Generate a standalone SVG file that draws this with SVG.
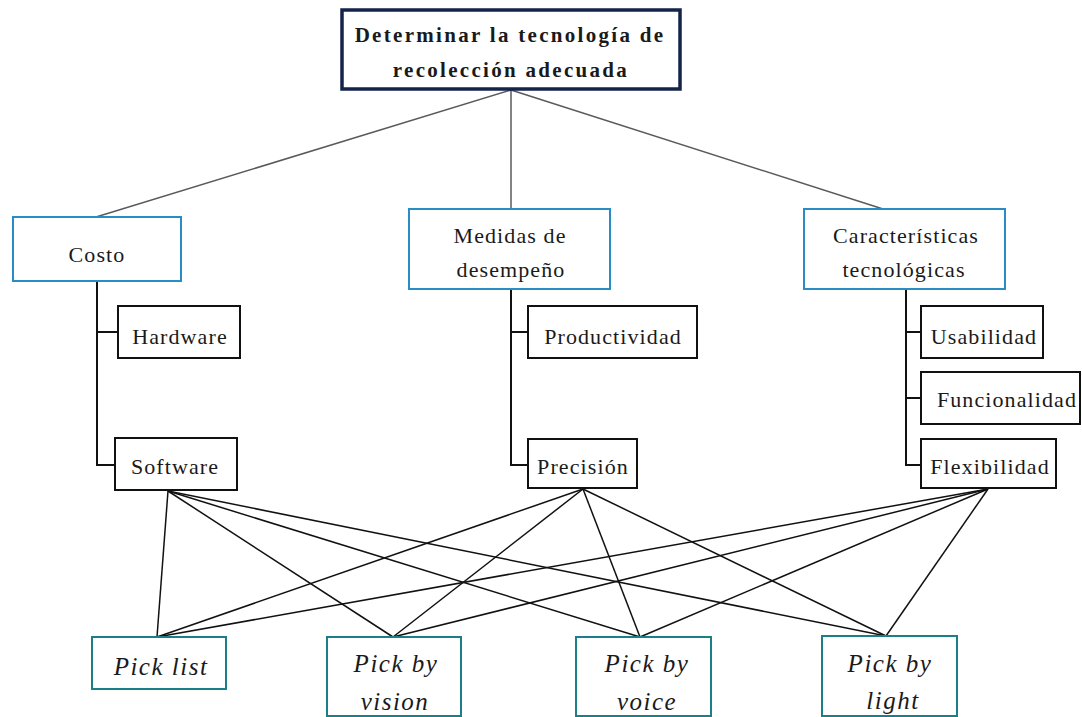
<svg xmlns="http://www.w3.org/2000/svg" width="1082" height="717" viewBox="0 0 1082 717">
  <style>
    .lbl { font-size: 22px; letter-spacing: 1.1px; }
    .title { font-size: 21px; font-weight: bold; letter-spacing: 2.3px; }
    .opt { font-size: 25px; font-style: italic; letter-spacing: 1.5px; }
    .goal { fill: #ffffff; stroke: #14234a; stroke-width: 3.5; }
    .crit { fill: #ffffff; stroke: #2a8cc4; stroke-width: 2; }
    .sub { fill: #ffffff; stroke: #111111; stroke-width: 2; }
    .alt { fill: #ffffff; stroke: #1a7f86; stroke-width: 2; }
    .top-link { stroke: #5a5a5a; stroke-width: 1.5; fill: none; }
    .tree { stroke: #111111; stroke-width: 2; fill: none; }
    .link { stroke: #111111; stroke-width: 1.5; fill: none; }
  </style>

  <!-- connectors -->
  <g id="connectors">
    <!-- goal to criteria -->
    <line class="top-link" x1="511" y1="90" x2="96" y2="217"/>
    <line class="top-link" x1="511" y1="90" x2="511" y2="209"/>
    <line class="top-link" x1="511" y1="90" x2="883" y2="209"/>
    <!-- criteria to sub-criteria -->
    <path class="tree" d="M97 281 V465 H115 M97 332 H118"/>
    <path class="tree" d="M511 289 V465 H528 M511 332 H528"/>
    <path class="tree" d="M906 289 V465 H921 M906 332 H921 M906 398 H921"/>
    <!-- sub-criteria to alternatives -->
    <line class="link" x1="168" y1="491" x2="157" y2="637"/>
    <line class="link" x1="168" y1="491" x2="393" y2="637"/>
    <line class="link" x1="168" y1="491" x2="640" y2="637"/>
    <line class="link" x1="168" y1="491" x2="886" y2="636"/>
    <line class="link" x1="583" y1="489" x2="157" y2="637"/>
    <line class="link" x1="583" y1="489" x2="393" y2="637"/>
    <line class="link" x1="583" y1="489" x2="640" y2="637"/>
    <line class="link" x1="583" y1="489" x2="886" y2="636"/>
    <line class="link" x1="988" y1="489" x2="157" y2="637"/>
    <line class="link" x1="988" y1="489" x2="393" y2="637"/>
    <line class="link" x1="988" y1="489" x2="640" y2="637"/>
    <line class="link" x1="988" y1="489" x2="886" y2="636"/>
  </g>

  <g font-family="'Liberation Serif', 'DejaVu Serif', 'Noto Serif', serif" fill="#1a1a1a" text-anchor="middle">
    <!-- goal -->
    <g id="goal">
      <rect class="goal" x="342" y="10" width="338" height="79"/>
      <text class="title" x="510" y="42">Determinar la tecnología de</text>
      <text class="title" x="511" y="77">recolección adecuada</text>
    </g>

    <!-- criteria -->
    <g id="costo">
      <rect class="crit" x="13" y="217" width="168" height="64"/>
      <text class="lbl" x="97" y="262">Costo</text>
    </g>
    <g id="medidas">
      <rect class="crit" x="409" y="209" width="201" height="80"/>
      <text class="lbl" x="510" y="243">Medidas de</text>
      <text class="lbl" x="511" y="277">desempeño</text>
    </g>
    <g id="caracteristicas">
      <rect class="crit" x="804" y="209" width="201" height="80"/>
      <text class="lbl" x="906" y="243">Características</text>
      <text class="lbl" x="904" y="277">tecnológicas</text>
    </g>

    <!-- sub-criteria -->
    <g id="hardware">
      <rect class="sub" x="118" y="306" width="122" height="52"/>
      <text class="lbl" x="180" y="344">Hardware</text>
    </g>
    <g id="software">
      <rect class="sub" x="115" y="438" width="122" height="52"/>
      <text class="lbl" x="175" y="474">Software</text>
    </g>
    <g id="productividad">
      <rect class="sub" x="528" y="306" width="169" height="52"/>
      <text class="lbl" x="613" y="344">Productividad</text>
    </g>
    <g id="precision">
      <rect class="sub" x="528" y="439" width="109" height="49"/>
      <text class="lbl" x="583" y="474">Precisión</text>
    </g>
    <g id="usabilidad">
      <rect class="sub" x="921" y="306" width="122" height="52"/>
      <text class="lbl" x="984" y="344">Usabilidad</text>
    </g>
    <g id="funcionalidad">
      <rect class="sub" x="921" y="372" width="159" height="52"/>
      <text class="lbl" x="1007" y="407">Funcionalidad</text>
    </g>
    <g id="flexibilidad">
      <rect class="sub" x="921" y="439" width="135" height="49"/>
      <text class="lbl" x="990" y="474">Flexibilidad</text>
    </g>

    <!-- alternatives -->
    <g id="pick-list">
      <rect class="alt" x="92" y="637" width="134" height="52"/>
      <text class="opt" x="161" y="675">Pick list</text>
    </g>
    <g id="pick-by-vision">
      <rect class="alt" x="327" y="637" width="134" height="79"/>
      <text class="opt" x="396" y="672">Pick by</text>
      <text class="opt" x="395" y="710">vision</text>
    </g>
    <g id="pick-by-voice">
      <rect class="alt" x="576" y="637" width="135" height="79"/>
      <text class="opt" x="647" y="672">Pick by</text>
      <text class="opt" x="647" y="710">voice</text>
    </g>
    <g id="pick-by-light">
      <rect class="alt" x="822" y="636" width="135" height="80"/>
      <text class="opt" x="890" y="672">Pick by</text>
      <text class="opt" x="893" y="709">light</text>
    </g>
  </g>
</svg>
